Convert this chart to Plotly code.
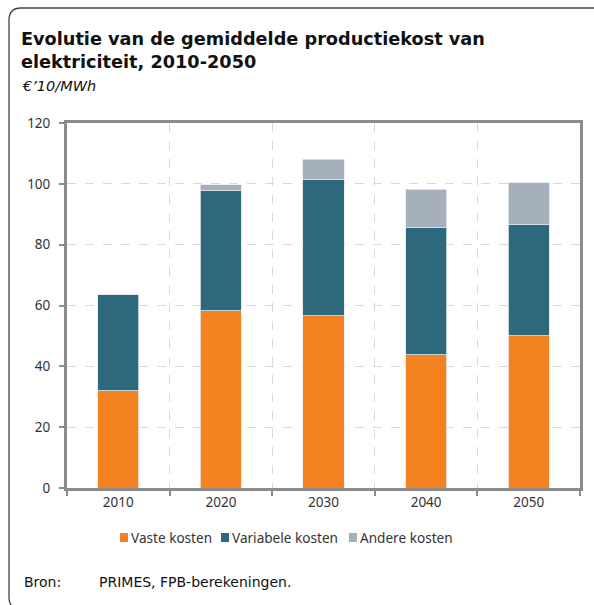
import plotly.graph_objects as go

years = ["2010", "2020", "2030", "2040", "2050"]
vaste = [32, 58.2, 56.6, 43.8, 50.0]
variabele = [31.5, 39.6, 44.7, 41.7, 36.5]
andere = [0, 1.9, 6.8, 12.7, 13.8]
series_names = ["Vaste kosten", "Variabele kosten", "Andere kosten"]
colors = ["#F58220", "#2E687C", "#A6B0BD"]
yticks = [0, 20, 40, 60, 80, 100, 120]

FONT = "Noto Sans"
WIDE = "DejaVu Sans"
W, H = 594, 605
L, R, T, B = 67, 14, 123, 117
pw, ph = W - L - R, H - T - B
def px(x): return (x - L) / pw
def py(y): return (H - B - y) / ph

fig = go.Figure()
for name, vals, col in zip(series_names, [vaste, variabele, andere], colors):
    fig.add_trace(go.Bar(x=years, y=vals, name=name, marker_color=col,
                         marker_line=dict(color="#E3EAF0", width=0.8), width=0.4))

fig.update_layout(
    barmode="stack",
    width=W, height=H,
    margin=dict(l=L, r=R, t=T, b=B, autoexpand=False),
    paper_bgcolor="white", plot_bgcolor="white",
    font=dict(family=FONT, size=13, color="#222"),
    showlegend=False,
    xaxis=dict(type="category", tickson="boundaries", showgrid=True, automargin=False,
               gridcolor="#D9D9D9", griddash="dash", gridwidth=1,
               showline=True, linecolor="#8C8C8C", linewidth=3, mirror=True,
               ticks="outside", ticklen=5, tickcolor="#8C8C8C", tickwidth=2,
               tickfont=dict(size=13.5, color="#333")),
    yaxis=dict(range=[0, 120], tickvals=yticks, showgrid=True, automargin=False,
               gridcolor="#D9D9D9", griddash="dash", gridwidth=1,
               showline=True, linecolor="#8C8C8C", linewidth=3, mirror=True,
               ticks="outside", ticklen=5, tickcolor="#8C8C8C", tickwidth=2,
               ticklabelstandoff=6,
               tickfont=dict(size=13.5, color="#333"), zeroline=False),
)

# legend (compact, as in the reference)
leg_x = [120, 221, 349]
for name, col, lx in zip(series_names, colors, leg_x):
    fig.add_shape(type="rect", xref="paper", yref="paper",
                  x0=px(lx), x1=px(lx + 8), y0=py(542), y1=py(533),
                  fillcolor=col, line=dict(width=0))
    fig.add_annotation(text=name, xref="paper", yref="paper", x=px(lx + 9), y=py(537.5),
                       xanchor="left", yanchor="middle", showarrow=False,
                       font=dict(size=13.6, color="#333", family=FONT))

fig.add_annotation(text="<b>Evolutie van de gemiddelde productiekost van<br>elektriciteit, 2010-2050</b>",
                   xref="paper", yref="paper", x=px(19), y=py(74), xanchor="left", yanchor="bottom",
                   align="left", showarrow=False, font=dict(size=17.7, color="#111", family=WIDE))
fig.add_annotation(text="<i>€’10/MWh</i>", xref="paper", yref="paper", x=px(20), y=py(86),
                   xanchor="left", yanchor="middle", align="left", showarrow=False,
                   font=dict(size=14.5, color="#111", family=WIDE))
fig.add_annotation(text="Bron:", xref="paper", yref="paper", x=px(22), y=py(582),
                   xanchor="left", yanchor="middle", showarrow=False,
                   font=dict(size=14, color="#111", family=WIDE))
fig.add_annotation(text="PRIMES, FPB-berekeningen.", xref="paper", yref="paper", x=px(97), y=py(582),
                   xanchor="left", yanchor="middle", showarrow=False,
                   font=dict(size=14, color="#111", family=WIDE))

# outer frame: rounded top-left corner, open on right and bottom (cut off)
fx, fy, r = 9, 8, 12
path = (f"M {px(fx+3)},{py(606)} Q {px(fx)},{py(603)} {px(fx)},{py(598)} "
        f"L {px(fx)},{py(fy+r)} Q {px(fx)},{py(fy)} {px(fx+r)},{py(fy)} L {px(600)},{py(fy)}")
fig.add_shape(type="path", path=path, xref="paper", yref="paper",
              line=dict(color="#444", width=1.3), fillcolor="rgba(0,0,0,0)", layer="below")

fig.write_html("out.html", config={"displayModeBar": False},
               post_script="document.body.style.margin='0';")
